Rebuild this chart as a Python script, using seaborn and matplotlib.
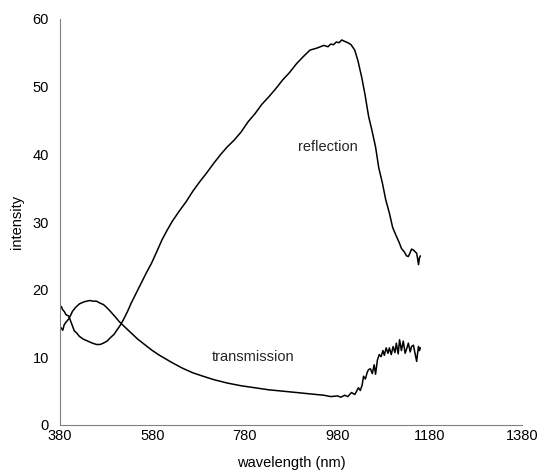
import matplotlib
matplotlib.use("Agg")
import matplotlib.pyplot as plt
import seaborn as sns
import pandas as pd

refl_wl = [380, 383, 386, 389, 393, 399, 405, 411, 416, 422, 430, 440, 450, 459, 467, 474, 482, 489,
           497, 504, 512, 519, 527, 534, 545, 556, 567, 578, 590, 601, 612, 623, 638, 653, 668, 683,
           698, 713, 728, 742, 757, 772, 787, 802, 817, 832, 847, 862, 877, 892, 906, 921, 936, 951,
           960, 966, 972, 978, 984, 990, 996, 1003, 1010, 1018, 1025, 1033, 1040, 1048, 1055, 1063,
           1070, 1078, 1085, 1093, 1100, 1108, 1114, 1119, 1125, 1130, 1134, 1138, 1141, 1146, 1150,
           1152, 1154, 1156, 1158, 1160]
refl_val = [17.2, 17.5, 17.0, 16.8, 16.3, 16.1, 15.0, 13.9, 13.6, 13.1, 12.7, 12.4, 12.1, 11.9, 11.9,
            12.1, 12.4, 12.9, 13.4, 14.1, 14.9, 15.8, 16.9, 18.0, 19.5, 21.0, 22.5, 23.9, 25.7, 27.4,
            28.8, 30.1, 31.6, 33.0, 34.6, 36.0, 37.3, 38.7, 40.0, 41.1, 42.1, 43.3, 44.8, 46.0, 47.4,
            48.5, 49.7, 51.0, 52.1, 53.4, 54.4, 55.4, 55.7, 56.1, 55.9, 56.3, 56.2, 56.6, 56.5, 56.9,
            56.7, 56.5, 56.2, 55.4, 53.8, 51.4, 48.9, 45.6, 43.6, 41.1, 38.0, 35.7, 33.3, 31.3, 29.2,
            27.9, 27.0, 26.1, 25.6, 25.0, 24.9, 25.5, 26.0, 25.8, 25.5, 25.4, 24.6, 23.7, 24.7, 25.0]

trans_wl = [380, 383, 386, 389, 393, 398, 403, 407, 414, 422, 432, 444, 452, 459, 467, 474, 482, 489,
            498, 508, 520, 534, 548, 563, 578, 593, 608, 623, 645, 668, 690, 713, 742, 772, 802, 832,
            862, 892, 921, 951, 966, 981, 988, 996, 1003, 1011, 1018, 1026, 1030, 1034, 1037, 1041,
            1045, 1048, 1052, 1056, 1060, 1063, 1067, 1071, 1075, 1079, 1082, 1086, 1090, 1093, 1097,
            1101, 1105, 1108, 1112, 1115, 1119, 1123, 1127, 1130, 1134, 1138, 1141, 1145, 1149, 1152,
            1154, 1156, 1158, 1160]
trans_val = [14.5, 14.3, 14.0, 14.8, 15.2, 15.6, 16.2, 16.8, 17.4, 17.9, 18.2, 18.4, 18.3, 18.3, 18.0,
             17.8, 17.3, 16.8, 16.1, 15.3, 14.5, 13.6, 12.7, 11.9, 11.1, 10.4, 9.8, 9.2, 8.4, 7.7,
             7.2, 6.7, 6.2, 5.8, 5.5, 5.2, 5.0, 4.8, 4.6, 4.4, 4.2, 4.3, 4.1, 4.4, 4.2, 4.8, 4.5, 5.5,
             5.1, 5.9, 7.2, 6.8, 7.8, 8.2, 8.3, 7.6, 8.9, 7.5, 9.6, 10.4, 10.1, 11.0, 10.3, 11.4,
             10.6, 11.4, 10.4, 11.6, 10.7, 12.1, 10.5, 12.6, 11.0, 12.4, 10.6, 11.2, 12.1, 10.8, 11.6,
             11.8, 10.4, 9.4, 10.6, 11.6, 11.0, 11.4]

series_names = ["reflection", "transmission"]

df = pd.concat([
    pd.DataFrame({"wavelength": refl_wl, "intensity": refl_val, "series": series_names[0]}),
    pd.DataFrame({"wavelength": trans_wl, "intensity": trans_val, "series": series_names[1]}),
], ignore_index=True)

sns.set_style("white")
plt.rcParams["font.family"] = ["Liberation Sans", "DejaVu Sans"]

FS = 10.5

fig = plt.figure(figsize=(5.41, 4.70), dpi=100)
ax = fig.add_axes([60 / 541, 45 / 470, 462 / 541, 406 / 470])

sns.lineplot(data=df, x="wavelength", y="intensity", hue="series",
             palette={"reflection": "black", "transmission": "black"},
             linewidth=1.1, legend=False, ax=ax, sort=False, estimator=None)

ax.set_xlim(380, 1380)
ax.set_ylim(0, 60)
ax.set_xticks([380, 580, 780, 980, 1180, 1380])
ax.set_yticks([0, 10, 20, 30, 40, 50, 60])
ax.set_xlabel("wavelength (nm)", fontsize=FS, color="black", labelpad=9)
ax.set_ylabel("intensity", fontsize=FS, color="black", labelpad=6)
ax.tick_params(axis="x", direction="in", length=4, width=0.8, color="#808080",
               labelsize=FS, labelcolor="black", pad=3)
ax.tick_params(axis="y", length=0, labelsize=FS, labelcolor="black", pad=8)

for side in ["top", "right"]:
    ax.spines[side].set_visible(False)
for side in ["left", "bottom"]:
    ax.spines[side].set_color("#808080")
    ax.spines[side].set_linewidth(0.8)

ax.text(960, 41.1, "reflection", fontsize=FS, ha="center", va="center")
ax.text(798, 10.0, "transmission", fontsize=FS, ha="center", va="center")

fig.savefig("out.png", dpi=100)
